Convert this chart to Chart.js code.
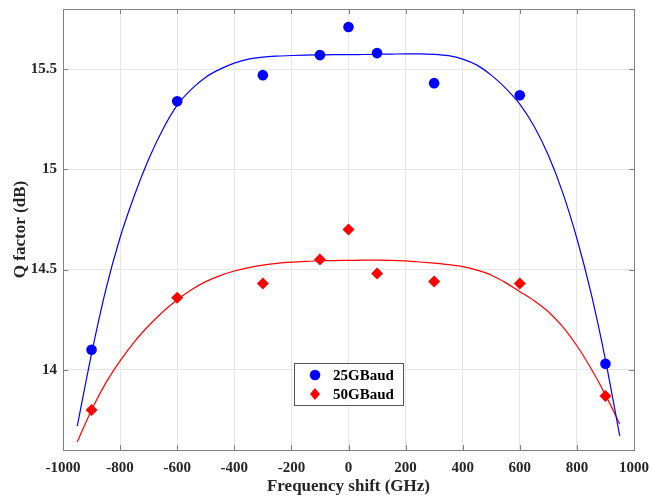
<!DOCTYPE html>
<html>
<head>
<meta charset="utf-8">
<script src="https://cdn.jsdelivr.net/npm/chart.js@4"></script>
<style>
  html, body { margin: 0; padding: 0; background: #fff; }
  #wrap { width: 651px; height: 499px; position: relative; }
</style>
</head>
<body>
<div id="wrap"><canvas id="qChart"></canvas></div>
<script>
/* global Chart */

// measured points
let shifts = [-900, -600, -300, -100, 0, 100, 300, 600, 900];
let q25 = [14.10, 15.34, 15.47, 15.57, 15.71, 15.58, 15.43, 15.37, 14.03];
let q50 = [13.80, 14.36, 14.43, 14.55, 14.70, 14.48, 14.44, 14.43, 13.87];

// fitted curves, every 50 GHz
let fitX = [-950, -900, -850, -800, -750, -700, -650, -600, -550, -500,
  -450, -400, -350, -300, -250, -200, -150, -100, -50, 0,
  50, 100, 150, 200, 250, 300, 350, 400, 450, 500,
  550, 600, 650, 700, 750, 800, 850, 900, 950];
let fit25 = [13.72, 14.08, 14.40, 14.66, 14.87, 15.05, 15.20, 15.32, 15.40, 15.46,
  15.50, 15.53, 15.55, 15.56, 15.565, 15.568, 15.570, 15.571, 15.572, 15.572,
  15.573, 15.574, 15.575, 15.576, 15.576, 15.574, 15.567, 15.55, 15.52, 15.47,
  15.405, 15.325, 15.215, 15.07, 14.885, 14.655, 14.38, 14.05, 13.67];
let fit50 = [13.64, 13.80, 13.935, 14.045, 14.14, 14.22, 14.29, 14.35, 14.40, 14.44,
  14.47, 14.493, 14.51, 14.522, 14.531, 14.537, 14.541, 14.544, 14.545, 14.546,
  14.547, 14.547, 14.546, 14.543, 14.538, 14.532, 14.525, 14.515, 14.497, 14.472,
  14.435, 14.39, 14.345, 14.29, 14.215, 14.12, 14.005, 13.875, 13.73];

let yTicks = [14, 14.5, 15, 15.5];
let seriesNames = ["25GBaud", "50GBaud"];

const pts = (xs, ys) => xs.map((x, i) => ({ x: x, y: ys[i] }));

const axisGray = "#808080";
const font15 = { family: "'Liberation Serif', 'Times New Roman', serif", size: 15, weight: "bold" };
const font17 = { family: "'Liberation Serif', 'Times New Roman', serif", size: 17, weight: "bold" };

// box around the plot with inward ticks, like matlab
const boxPlugin = {
  id: "box",
  afterDraw(chart) {
    const c = chart.ctx;
    const a = chart.chartArea;
    const xs = chart.scales.x, ys = chart.scales.y;
    c.save();
    c.strokeStyle = axisGray;
    c.lineWidth = 1;
    c.strokeRect(a.left + 0.5, a.top + 0.5, a.right - a.left, a.bottom - a.top);
    c.beginPath();
    xs.ticks.forEach((t) => {
      const px = Math.round(xs.getPixelForValue(t.value)) + 0.5;
      c.moveTo(px, a.bottom); c.lineTo(px, a.bottom - 5);
      c.moveTo(px, a.top); c.lineTo(px, a.top + 5);
    });
    ys.ticks.forEach((t) => {
      const py = Math.round(ys.getPixelForValue(t.value)) + 0.5;
      c.moveTo(a.left, py); c.lineTo(a.left + 5, py);
      c.moveTo(a.right, py); c.lineTo(a.right - 5, py);
    });
    c.stroke();
    c.restore();
  },
};

// legend box inside the plot
const legendPlugin = {
  id: "innerLegend",
  afterDraw(chart) {
    const c = chart.ctx;
    const bx = 294, by = 363, bw = 109, bh = 42;
    c.save();
    c.fillStyle = "#fff";
    c.fillRect(bx, by, bw, bh);
    c.strokeStyle = "#555";
    c.lineWidth = 1;
    c.strokeRect(bx + 0.5, by + 0.5, bw, bh);
    c.font = "bold 15px 'Liberation Serif', 'Times New Roman', serif";
    c.textBaseline = "middle";
    // row 1
    c.beginPath();
    c.fillStyle = "blue";
    c.arc(315, 375, 5.3, 0, Math.PI * 2);
    c.fill();
    c.fillStyle = "#000";
    c.fillText(seriesNames[0], 333, 376);
    // row 2
    c.beginPath();
    c.fillStyle = "red";
    c.moveTo(315, 388); c.lineTo(320, 394); c.lineTo(315, 400); c.lineTo(310, 394);
    c.closePath();
    c.fill();
    c.fillStyle = "#000";
    c.fillText(seriesNames[1], 333, 395);
    c.restore();
  },
};

var ctx = document.getElementById("qChart").getContext("2d");
var qChart = new Chart(ctx, {
  type: "scatter",
  data: {
    datasets: [
      {
        label: seriesNames[0],
        data: pts(shifts, q25),
        pointStyle: "circle",
        pointRadius: 5.3,
        backgroundColor: "blue",
        borderColor: "blue",
        borderWidth: 0,
      },
      {
        label: seriesNames[1],
        data: pts(shifts, q50),
        pointStyle: "rectRot",
        pointRadius: 6,
        backgroundColor: "red",
        borderColor: "red",
        borderWidth: 0,
      },
      {
        label: "fit 25",
        type: "line",
        data: pts(fitX, fit25),
        borderColor: "blue",
        borderWidth: 1.2,
        pointRadius: 0,
        cubicInterpolationMode: "monotone",
        fill: false,
      },
      {
        label: "fit 50",
        type: "line",
        data: pts(fitX, fit50),
        borderColor: "red",
        borderWidth: 1.2,
        pointRadius: 0,
        cubicInterpolationMode: "monotone",
        fill: false,
      },
    ],
  },
  options: {
    responsive: true,
    maintainAspectRatio: false,
    animation: false,
    layout: { padding: { top: 9, right: 17, bottom: 0, left: 0 } },
    plugins: {
      legend: { display: false },
      tooltip: { enabled: false },
    },
    scales: {
      x: {
        type: "linear",
        min: -1000,
        max: 1000,
        afterFit: (s) => { s.height = 49; s.paddingLeft = 0; s.paddingRight = 0; },
        ticks: { stepSize: 200, color: "#262626", font: font15, padding: 9, maxRotation: 0, callback: (v) => String(v) },
        grid: { color: "#e6e6e6", drawTicks: false },
        border: { display: false },
        title: { display: true, text: "Frequency shift (GHz)", color: "#262626", font: font17, padding: { top: 0, bottom: 2 } },
      },
      y: {
        type: "linear",
        min: 13.6,
        max: 15.8,
        afterFit: (s) => { s.width = 63; s.paddingTop = 0; s.paddingBottom = 0; },
        afterBuildTicks: (s) => { s.ticks = yTicks.map((v) => ({ value: v })); },
        ticks: { color: "#262626", font: font15, padding: 6, callback: (v) => String(v) },
        grid: { color: "#e6e6e6", drawTicks: false },
        border: { display: false },
        title: { display: true, text: "Q factor (dB)", color: "#262626", font: font17, padding: { top: 10, bottom: 0 } },
      },
    },
  },
  plugins: [boxPlugin, legendPlugin],
});
</script>
</body>
</html>
